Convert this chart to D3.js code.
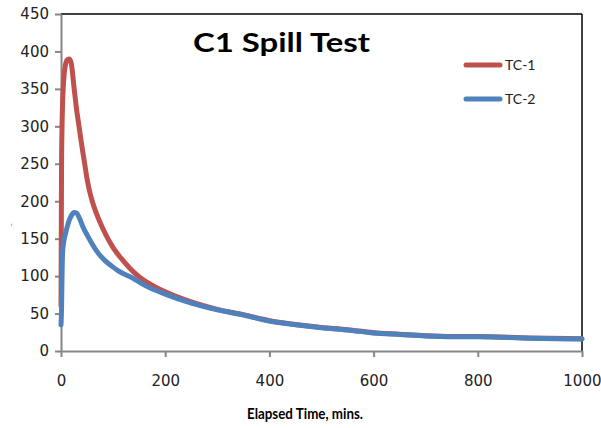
<!DOCTYPE html>
<html>
<head>
<meta charset="utf-8">
<script src="https://cdn.jsdelivr.net/npm/d3@7"></script>
<style>
  html, body { margin: 0; padding: 0; background: #fff; }
  svg { display: block; }
</style>
</head>
<body>
<svg id="chart" width="601" height="428"></svg>
<script>
// Elapsed time (minutes) and thermocouple readings for the C1 spill test
const tc1Time = [0, 1, 2, 3, 5, 8, 12, 16, 20, 25, 30, 35, 40, 45, 50, 55, 60, 70, 80, 100, 120, 140, 160, 180, 200, 250, 300, 350, 400, 450, 500, 550, 600, 650, 700, 750, 800, 900, 1000];
const tc1Temp = [60, 240, 300, 330, 360, 380, 389, 390, 383, 352, 322, 298, 274, 252, 230, 213, 200, 180, 164, 138, 120, 105, 94, 86, 79, 65.5, 55.5, 48.5, 40.5, 35.5, 31.5, 28.5, 24.5, 22.5, 20.5, 19.5, 19.5, 17.5, 16.5];

const tc2Time = [0, 1, 2, 3, 5, 8, 12, 16, 20, 25, 30, 35, 42, 50, 59, 70, 84, 100, 110, 136, 160, 200, 250, 300, 350, 400, 450, 500, 550, 600, 650, 700, 750, 800, 900, 1000];
const tc2Temp = [35, 55, 100, 130, 145, 155, 166, 175, 181, 185, 184, 178, 166, 155, 144, 132, 121, 112, 107, 98, 88, 76, 64, 55, 48, 40, 35, 31, 28, 24, 22, 20, 19, 19, 17, 16];

const xTicks = [0, 200, 400, 600, 800, 1000];
const yTicks = [0, 50, 100, 150, 200, 250, 300, 350, 400, 450];

const seriesNames = ["TC-1", "TC-2"];
const seriesColors = ["#C0504D", "#4F81BD"];

const chartTitle = "C1 Spill Test";
const xTitle = "Elapsed Time, mins.";

const svg = d3.select("#chart");
const plot = { left: 61, right: 582, top: 14, bottom: 351 };

const x = d3.scaleLinear().domain([0, 1000]).range([plot.left, plot.right]);
const y = d3.scaleLinear().domain([0, 450]).range([plot.bottom, plot.top]);

const series = [
  { name: seriesNames[0], color: seriesColors[0], pts: tc1Time.map((t, i) => [t, tc1Temp[i]]) },
  { name: seriesNames[1], color: seriesColors[1], pts: tc2Time.map((t, i) => [t, tc2Temp[i]]) }
];

// plot area frame: black top and right edges
svg.append("line").attr("x1", plot.left).attr("x2", plot.right).attr("y1", plot.top).attr("y2", plot.top)
  .attr("stroke", "#000").attr("stroke-width", 1.5);
svg.append("line").attr("x1", plot.right).attr("x2", plot.right).attr("y1", plot.top).attr("y2", plot.bottom)
  .attr("stroke", "#000").attr("stroke-width", 1.5);

// axes
const tickFont = "'DejaVu Sans', sans-serif";
const yAxis = svg.append("g").attr("transform", `translate(${plot.left},0)`)
  .call(d3.axisLeft(y).tickValues(yTicks).tickFormat(d3.format("d")).tickSize(6).tickPadding(6).tickSizeOuter(0));
const xAxis = svg.append("g").attr("transform", `translate(0,${plot.bottom})`)
  .call(d3.axisBottom(x).tickValues(xTicks).tickFormat(d3.format("d")).tickSize(6).tickPadding(18).tickSizeOuter(0));

[yAxis, xAxis].forEach(g => {
  g.select(".domain").attr("stroke", "#868686").attr("stroke-width", 2);
  g.selectAll(".tick line").attr("stroke", "#868686").attr("stroke-width", 2);
  g.selectAll(".tick text").attr("fill", "#222").style("font-family", tickFont).style("font-size", "15px");
});
// keep the last x label inside the page
xAxis.selectAll(".tick text").filter(d => d === 1000).attr("text-anchor", "end").attr("dx", 19);

// data lines
const line = d3.line().x(d => x(d[0])).y(d => y(d[1])).curve(d3.curveMonotoneX);
svg.append("g").selectAll("path").data(series).join("path")
  .attr("d", d => line(d.pts))
  .attr("fill", "none")
  .attr("stroke", d => d.color)
  .attr("stroke-width", 5)
  .attr("stroke-linejoin", "round")
  .attr("stroke-linecap", "round");

// title
svg.append("text").attr("x", 193).attr("y", 52)
  .attr("textLength", 177).attr("lengthAdjust", "spacingAndGlyphs")
  .style("font-family", "Lato, sans-serif").style("font-weight", "bold").style("font-size", "26px")
  .attr("fill", "#000").text(chartTitle);

// legend
const legend = svg.append("g").selectAll("g").data(series).join("g")
  .attr("transform", (d, i) => `translate(466,${65 + i * 34})`);
legend.append("line").attr("x1", 0).attr("x2", 34).attr("y1", 0).attr("y2", 0)
  .attr("stroke", d => d.color).attr("stroke-width", 5).attr("stroke-linecap", "round");
legend.append("text").attr("x", 39).attr("y", 5)
  .style("font-family", "Lato, sans-serif").style("font-size", "14px").attr("fill", "#222")
  .text(d => d.name);

// x axis title
svg.append("text").attr("x", 247).attr("y", 419)
  .attr("textLength", 116).attr("lengthAdjust", "spacingAndGlyphs")
  .style("font-family", "Lato, sans-serif").style("font-weight", "bold").style("font-size", "15px")
  .attr("fill", "#000").text(xTitle);

// y axis title
svg.append("text").attr("transform", "translate(14,225) rotate(-90)").attr("text-anchor", "middle")
  .style("font-family", "Lato, sans-serif").style("font-size", "10px").attr("fill", "#999").text("-");
</script>
</body>
</html>
